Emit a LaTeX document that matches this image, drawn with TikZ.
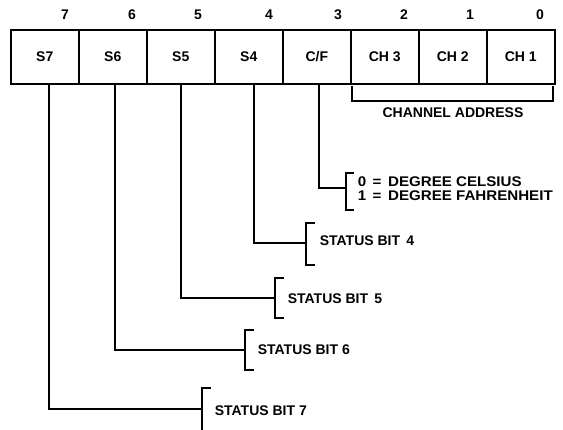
\documentclass[tikz,border=0pt]{standalone}
\usepackage{fontspec}
\setmainfont{Liberation Sans}
\newfontfamily\widefont[FakeStretch=1.08]{Liberation Sans}
\begin{document}
\begin{tikzpicture}[x=1pt,y=-1pt,
  line width=1.6pt,
  cell/.style={draw,minimum width=68pt,minimum height=54pt,anchor=north west,inner sep=0pt,font=\fontsize{14}{14}\selectfont\bfseries},
  bitnum/.style={font=\fontsize{14}{14}\selectfont\bfseries,inner sep=0pt},
  lbl/.style={font=\fontsize{14}{14}\selectfont\bfseries,inner sep=0pt,anchor=west,align=left},
  brk/.style={line width=1.6pt},
  wire/.style={line width=1.6pt}]
\useasboundingbox (0,0) rectangle (563,429);
% register cells
\node[cell] (s7) at (10,29) {S7};
\node[cell] (s6) at (78,29) {S6};
\node[cell] (s5) at (146,29) {S5};
\node[cell] (s4) at (214,29) {S4};
\node[cell] (cf) at (282,29) {C/F};
\node[cell] (ch3) at (350,29) {CH 3};
\node[cell] (ch2) at (418,29) {CH 2};
\node[cell] (ch1) at (486,29) {CH 1};
% bit numbers
\node[bitnum] (n7) at (65,15) {7};
\node[bitnum] (n6) at (132,15) {6};
\node[bitnum] (n5) at (198,15) {5};
\node[bitnum] (n4) at (269,15) {4};
\node[bitnum] (n3) at (338,15) {3};
\node[bitnum] (n2) at (404,15) {2};
\node[bitnum] (n1) at (470,15) {1};
\node[bitnum] (n0) at (540,15) {0};
% channel address bracket
\coordinate (ca1) at (352,86);
\coordinate (ca2) at (553,86);
\draw[brk] (ca1) -- ++(0,15) -| (ca2);
\node[font=\fontsize{14}{14}\selectfont\bfseries,inner sep=0pt] (chaddr) at (453,113) {CHANNEL ADDRESS};
% brackets
\coordinate (bcf) at (346,188);
\draw[brk] (354,173) -- (346,173) -- (346,210) -- (354,210);
\coordinate (b4) at (306,243);
\draw[brk] (315,223) -- (306,223) -- (306,265) -- (315,265);
\coordinate (b5) at (275,298);
\draw[brk] (284,278) -- (275,278) -- (275,318) -- (284,318);
\coordinate (b6) at (245,350);
\draw[brk] (254,330) -- (245,330) -- (245,370) -- (254,370);
\coordinate (b7) at (202,409);
\draw[brk] (211,388) -- (202,388) -- (202,432);
% connectors
\draw[wire] ([xshift=2pt]cf.south) |- (bcf);
\draw[wire] ([xshift=5pt]s4.south) |- (b4);
\draw[wire] (s5.south) |- (b5);
\draw[wire] ([xshift=2pt]s6.south) |- (b6);
\draw[wire] ([xshift=4pt]s7.south) |- (b7);
% labels
\node[lbl,font=\widefont\fontsize{14}{14}\selectfont\bfseries] (tcf) at (357,189) {0 \,=\, DEGREE CELSIUS\\[0pt]1 \,=\, DEGREE FAHRENHEIT};
\node[lbl] (t4) at (319,241) {STATUS BIT\, 4};
\node[lbl] (t5) at (287,299) {STATUS BIT\, 5};
\node[lbl] (t6) at (257,350) {STATUS BIT 6};
\node[lbl] (t7) at (214,411) {STATUS BIT 7};
\end{tikzpicture}
\end{document}
